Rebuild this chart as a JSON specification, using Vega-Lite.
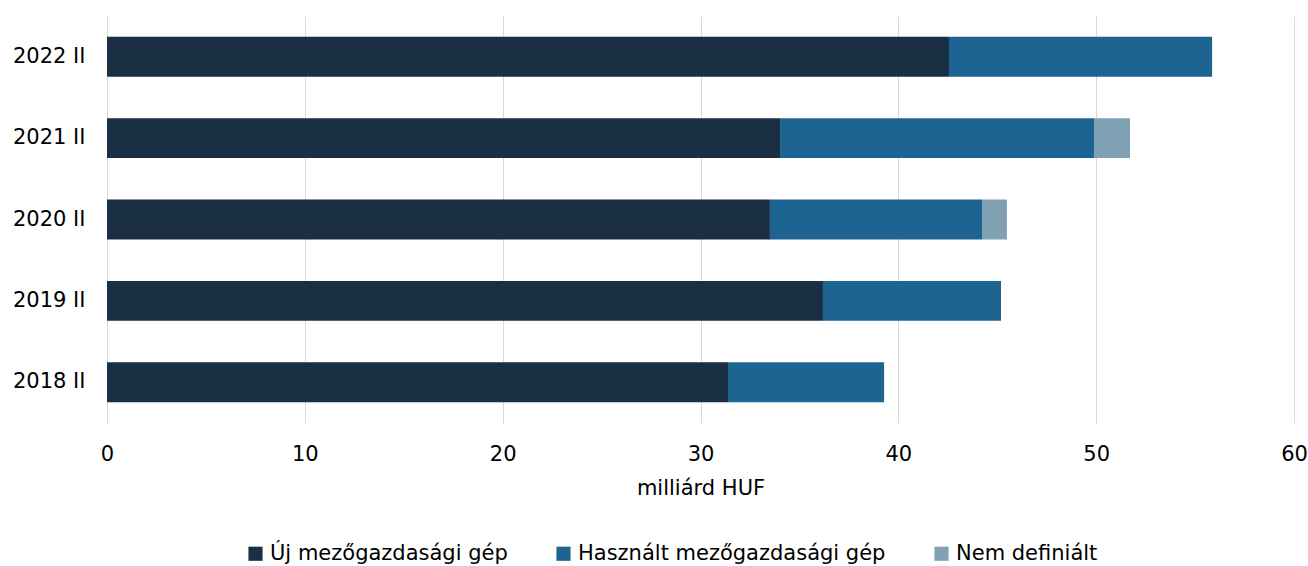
{
  "$schema": "https://vega.github.io/schema/vega-lite/v6.json",
  "width": 1187,
  "height": 407,
  "autosize": {"type": "none"},
  "padding": {"left": 107, "top": 16, "right": 14, "bottom": 143},
  "background": "white",
  "config": {
    "view": {"stroke": null},
    "font": "DejaVu Sans"
  },
  "data": {
    "values": [
      {"period": "2022 II", "type": "Új mezőgazdasági gép", "o": 1, "value": 42.56},
      {"period": "2022 II", "type": "Használt mezőgazdasági gép", "o": 2, "value": 13.3},
      {"period": "2021 II", "type": "Új mezőgazdasági gép", "o": 1, "value": 34.02},
      {"period": "2021 II", "type": "Használt mezőgazdasági gép", "o": 2, "value": 15.87},
      {"period": "2021 II", "type": "Nem definiált", "o": 3, "value": 1.82},
      {"period": "2020 II", "type": "Új mezőgazdasági gép", "o": 1, "value": 33.51},
      {"period": "2020 II", "type": "Használt mezőgazdasági gép", "o": 2, "value": 10.72},
      {"period": "2020 II", "type": "Nem definiált", "o": 3, "value": 1.26},
      {"period": "2019 II", "type": "Új mezőgazdasági gép", "o": 1, "value": 36.19},
      {"period": "2019 II", "type": "Használt mezőgazdasági gép", "o": 2, "value": 9.0},
      {"period": "2018 II", "type": "Új mezőgazdasági gép", "o": 1, "value": 31.39},
      {"period": "2018 II", "type": "Használt mezőgazdasági gép", "o": 2, "value": 7.89}
    ]
  },
  "mark": {"type": "bar"},
  "encoding": {
    "y": {
      "field": "period",
      "type": "nominal",
      "sort": ["2022 II", "2021 II", "2020 II", "2019 II", "2018 II"],
      "scale": {"paddingInner": 0.51, "paddingOuter": 0.255},
      "axis": {
        "title": null,
        "domain": false,
        "ticks": false,
        "labelFontSize": 21,
        "labelColor": "#000000",
        "labelPadding": 22
      }
    },
    "x": {
      "field": "value",
      "type": "quantitative",
      "stack": "zero",
      "scale": {"domain": [0, 60]},
      "axis": {
        "values": [0, 10, 20, 30, 40, 50, 60],
        "title": "milliárd HUF",
        "titleFontSize": 21,
        "titleFontWeight": "normal",
        "titleColor": "#000000",
        "titlePadding": 13,
        "labelFontSize": 21,
        "labelColor": "#000000",
        "labelPadding": 20,
        "labelFlush": false,
        "labelOverlap": false,
        "domain": false,
        "ticks": false,
        "grid": true,
        "gridColor": "#d9d9d9",
        "gridWidth": 1
      }
    },
    "color": {
      "field": "type",
      "type": "nominal",
      "sort": ["Új mezőgazdasági gép", "Használt mezőgazdasági gép", "Nem definiált"],
      "scale": {
        "domain": ["Új mezőgazdasági gép", "Használt mezőgazdasági gép", "Nem definiált"],
        "range": ["#1b2f44", "#1e6493", "#80a1b4"]
      },
      "legend": {
        "title": null,
        "orient": "none",
        "direction": "horizontal",
        "legendX": 138,
        "legendY": 527,
        "symbolType": "square",
        "symbolSize": 200,
        "symbolStrokeWidth": 0,
        "labelFontSize": 21,
        "labelColor": "#000000",
        "labelOffset": 4,
        "columnPadding": 45,
        "labelLimit": 400
      }
    },
    "order": {"field": "o", "type": "quantitative"}
  }
}
